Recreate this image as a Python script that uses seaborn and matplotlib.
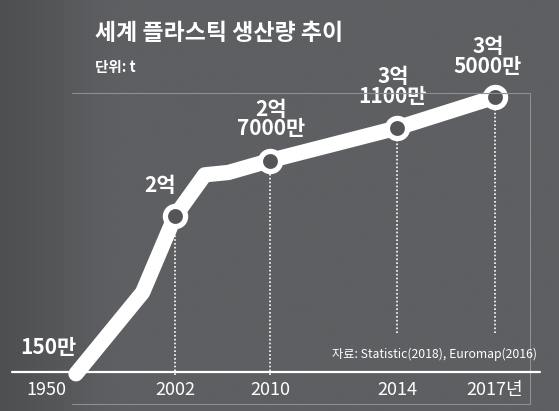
import numpy as np
import matplotlib
matplotlib.use("Agg")
import matplotlib.pyplot as plt
import matplotlib.transforms as mtransforms
from matplotlib.lines import Line2D
import seaborn as sns

# data (unit: 억 t)
years = [1950, 1985, 2002, 2004.5, 2006.5, 2010, 2014, 2017]
production = [0.015, 1.04, 2.0, 2.52, 2.55, 2.7, 3.11, 3.5]

marked_years = [2002, 2010, 2014, 2017]
marked_values = [2.0, 2.7, 3.11, 3.5]
marked_labels = ["2억", "2억\n7000만", "3억\n1100만", "3억\n5000만"]
start_label = "150만"

tick_years = [1950, 2002, 2010, 2014, 2017]
tick_labels = ["1950", "2002", "2010", "2014", "2017년"]

title = "세계 플라스틱 생산량 추이"
unit = "단위: t"
source = "자료: Statistic(2018), Euromap(2016)"

sns.set_style("white")
plt.rcParams['font.family'] = ['Noto Sans CJK KR', 'DejaVu Sans']

W, H = 559, 411
bg = '#5e5f62'

def fx(px):
    return px / W

def fy(py):
    return 1 - py / H

fig = plt.figure(figsize=(W / 100, H / 100), dpi=100, facecolor=bg)

# background: darker photo area on the left
bax = fig.add_axes([0, 0, 1, 1])
grad = np.linspace(0, 1, 200)
img = np.clip(grad[None, :] * 5, 0, 1) * np.ones((50, 1))
bax.imshow(img, aspect='auto', cmap=matplotlib.colors.LinearSegmentedColormap.from_list(
    'bg', ['#4e4f51', bg]), extent=[0, 1, 0, 1], vmin=0, vmax=1)
bax.set_axis_off()

# non-uniform x axis as in the original graphic
tick_px = [76, 175, 270, 397, 495]

def fwd(x):
    return np.interp(x, tick_years, tick_px)

def inv(p):
    return np.interp(p, tick_px, tick_years)

ax = fig.add_axes([fx(76), fy(375), fx(495) - fx(76), fy(97) - fy(375)])
ax.set_facecolor('none')
ax.set_xscale('function', functions=(fwd, inv))
ax.set_xlim(1950, 2017)
ax.set_ylim(0, 3.5)

# dotted guides
dot_bottom = [0, 0, 0.53, 0.53]
for yr, v, b in zip(marked_years, marked_values, dot_bottom):
    ax.plot([yr, yr], [b, v], color='white', lw=1.2, ls=(0, (1, 1.3)), clip_on=False, zorder=1)

sns.lineplot(x=years, y=production, ax=ax, color='white', lw=11, sort=False, zorder=3)
for l in ax.lines:
    l.set_clip_on(False)
ax.lines[-1].set_solid_capstyle('round')
ax.lines[-1].set_solid_joinstyle('round')

sns.scatterplot(x=marked_years, y=marked_values, ax=ax, s=210, color='#555557',
                edgecolor='white', linewidth=3.8, zorder=4, clip_on=False)

# value labels
offsets = [(-11, 22), (1, 30), (-3, 30), (-5, 29)]
for yr, v, lab, off in zip(marked_years, marked_values, marked_labels, offsets):
    ax.annotate(lab, (yr, v), xytext=off, textcoords='offset points', ha='center', va='center',
                color='white', fontsize=15, fontweight='bold', linespacing=0.92)
ax.annotate(start_label, (years[0], production[0]), xytext=(-20, 19), textcoords='offset points',
            ha='center', va='center', color='white', fontsize=15, fontweight='bold')

ax.set_xticks(tick_years)
ax.set_xticklabels(tick_labels)
ax.tick_params(axis='x', length=0, pad=4, labelsize=13, labelcolor='white')
ax.set_yticks([])
lab0 = ax.get_xticklabels()[0]
lab0.set_transform(lab0.get_transform() + mtransforms.ScaledTranslation(-30 / 100, 0, fig.dpi_scale_trans))
for sp in ax.spines.values():
    sp.set_visible(False)

# frame and baseline
fig.add_artist(Line2D([fx(72), fx(530), fx(530), fx(72)], [fy(93), fy(93), fy(404), fy(404)],
                      transform=fig.transFigure, color='#8e8f92', lw=0.8))
fig.add_artist(Line2D([fx(12), fx(540)], [fy(372), fy(372)], transform=fig.transFigure,
                      color='white', lw=1.6, zorder=2))

fig.text(fx(95), fy(33), title, color='white', fontsize=16.5, fontweight='bold', va='center', ha='left')
fig.text(fx(95), fy(67), unit, color='white', fontsize=10.5, fontweight='bold', va='center', ha='left')
fig.text(fx(537), fy(354), source, color='white', fontsize=8.8, va='center', ha='right')

fig.savefig('out.png', dpi=100, facecolor=bg)
